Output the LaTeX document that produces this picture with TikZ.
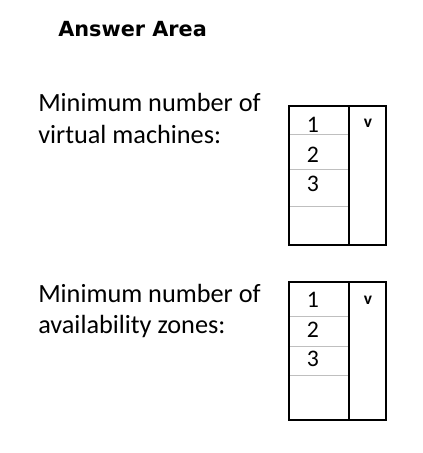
\documentclass[tikz,border=0pt]{standalone}
\usepackage{fontspec}
\setmainfont{Carlito}
\newfontfamily\titlefont{DejaVu Sans}
\tikzset{
	titlestyle/.style={anchor=base west,inner sep=0pt,font=\titlefont\bfseries\fontsize{15.6}{18}\selectfont},
	labelstyle/.style={anchor=base west,inner sep=0pt,font=\fontsize{19.7}{23}\selectfont},
	digitstyle/.style={anchor=base,inner sep=0pt,font=\fontsize{17.8}{21}\selectfont},
	arrowstyle/.style={inner sep=0pt,font=\bfseries\fontsize{13}{15}\selectfont},
	boxstyle/.style={draw=black,line width=1.2pt},
	rowstyle/.style={draw=black!25,line width=0.6pt}
}

\begin{document}
\begin{tikzpicture}[x=0.75pt,y=-0.75pt]
		\useasboundingbox (0,0) rectangle (423,453);
		\node[titlestyle] (title) at (58,37) {Answer Area};
		\node[labelstyle] (vmlabel) at (38,111) {Minimum number of};
		\node[labelstyle] (vmlabelb) at (38,143) {virtual machines:};
		\node[labelstyle] (zonelabel) at (38,302) {Minimum number of};
		\node[labelstyle] (zonelabelb) at (38,333) {availability zones:};
		% first drop-down
		\draw[rowstyle] (289,134) -- (349,134);
		\draw[rowstyle] (289,169) -- (349,169);
		\draw[rowstyle] (289,206) -- (349,206);
		\draw[boxstyle] (289,106) rectangle (386,245);
		\draw[boxstyle] (349,106) -- (349,245);
		\node[digitstyle] (vmone) at (313,132) {1};
		\node[digitstyle] (vmtwo) at (313,162) {2};
		\node[digitstyle] (vmthree) at (313,191) {3};
		\node[arrowstyle] (vmarrow) at (368,123) {v};
		% second drop-down
		\draw[rowstyle] (289,316) -- (349,316);
		\draw[rowstyle] (289,346) -- (349,346);
		\draw[rowstyle] (289,375) -- (349,375);
		\draw[boxstyle] (289,282) rectangle (386,420);
		\draw[boxstyle] (349,282) -- (349,420);
		\node[digitstyle] (zoneone) at (313,307) {1};
		\node[digitstyle] (zonetwo) at (313,337) {2};
		\node[digitstyle] (zonethree) at (313,366) {3};
		\node[arrowstyle] (zonearrow) at (368,300) {v};
\end{tikzpicture}
\end{document}
